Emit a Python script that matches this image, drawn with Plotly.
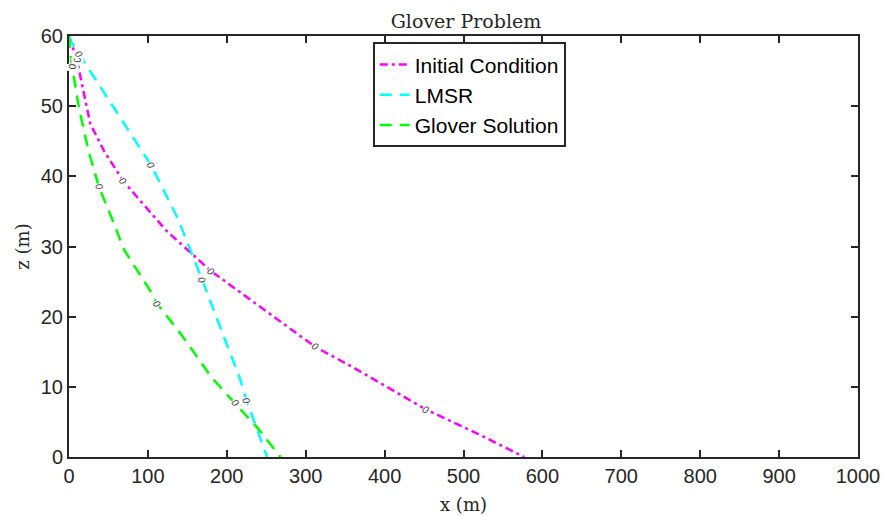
import math
import plotly.graph_objects as go

# Glover problem interface profiles (x in m, z in m)
init_x = [0, 4, 10, 27, 45, 69, 123, 180, 250, 312, 355, 452, 520, 577]
init_z = [60, 58.5, 56.6, 47.5, 43.5, 39.3, 32.3, 26.5, 20.8, 15.7, 13.1, 6.8, 3.2, 0]

lmsr_x = [0, 2, 13, 34, 70, 104, 137, 144, 169, 195, 216, 225, 251]
lmsr_z = [60, 59.3, 57.4, 53.7, 47.5, 41.6, 34.2, 32.3, 25.2, 17.5, 11.4, 8.1, 0]

glov_x = [0, 1, 4, 13, 25, 38, 55, 70, 104, 112, 142, 181, 210, 240, 268]
glov_z = [60, 58, 55.6, 49.5, 43.5, 38.5, 33.8, 29.5, 23.5, 21.8, 17.5, 11.3, 7.7, 4, 0]

# where the contour-style "0" labels sit (indices into the arrays above)
init_lab = [2, 5, 7, 9, 11]
lmsr_lab = [2, 5, 8, 11]
glov_lab = [2, 5, 9, 12]

series = [
    ("Initial Condition", init_x, init_z, init_lab, "#ff00ff", "8px,4px,3px,4px"),
    ("LMSR", lmsr_x, lmsr_z, lmsr_lab, "#00ffff", "12px,8px"),
    ("Glover Solution", glov_x, glov_z, glov_lab, "#00ff00", "12px,8px"),
]

# page has an 8px body margin, so the figure is a bit smaller than the window
W, H = 888, 508
ml, mr, mt, mb = 61, 38, 28, 59
kx = (W - ml - mr) / 1000
kz = (H - mt - mb) / 60

fig = go.Figure()
annots = []
for name, xs, zs, labs, col, dash in series:
    fig.add_trace(go.Scatter(
        x=xs, y=zs, mode="lines", name=name,
        line=dict(color=col, width=2.5, dash=dash),
    ))
    for i in labs:
        dx = xs[i + 1] - xs[i - 1]
        dz = zs[i + 1] - zs[i - 1]
        ang = math.degrees(math.atan2(-dz * kz, dx * kx))
        annots.append(dict(
            x=xs[i], y=zs[i], text="<i>0</i>", showarrow=False,
            textangle=ang, bgcolor="white", borderpad=0,
            font=dict(family="Liberation Sans", size=10, color="#333333"),
        ))

axis_common = dict(
    showline=True, linewidth=2, linecolor="#262626", mirror="ticks",
    ticks="inside", ticklen=7, tickwidth=2, tickcolor="#262626",
    showgrid=False, zeroline=False, automargin=False,
    tickfont=dict(family="Liberation Sans", size=20, color="#262626"),
)

fig.update_layout(
    width=W, height=H,
    margin=dict(l=ml, r=mr, t=mt, b=mb),
    plot_bgcolor="white", paper_bgcolor="white",
    title=dict(text="Glover Problem", x=458 / W, xanchor="center",
               y=1 - 13 / H, yanchor="middle",
               font=dict(family="DejaVu Serif", size=19, color="#262626")),
    xaxis=dict(range=[0, 1000], dtick=100,
               title=dict(text="x (m)", standoff=12,
                          font=dict(family="DejaVu Serif", size=18, color="#262626")),
               **axis_common),
    yaxis=dict(range=[0, 60], dtick=10,
               title=dict(text="z (m)", standoff=6,
                          font=dict(family="DejaVu Serif", size=18, color="#262626")),
               **axis_common),
    legend=dict(x=0.385, y=0.985, xanchor="left", yanchor="top",
                bgcolor="white", bordercolor="#262626", borderwidth=2,
                font=dict(family="Liberation Sans", size=21, color="black"),
                itemwidth=30, tracegroupgap=0),
    annotations=annots,
    showlegend=True,
)

fig.write_html("out.html")
